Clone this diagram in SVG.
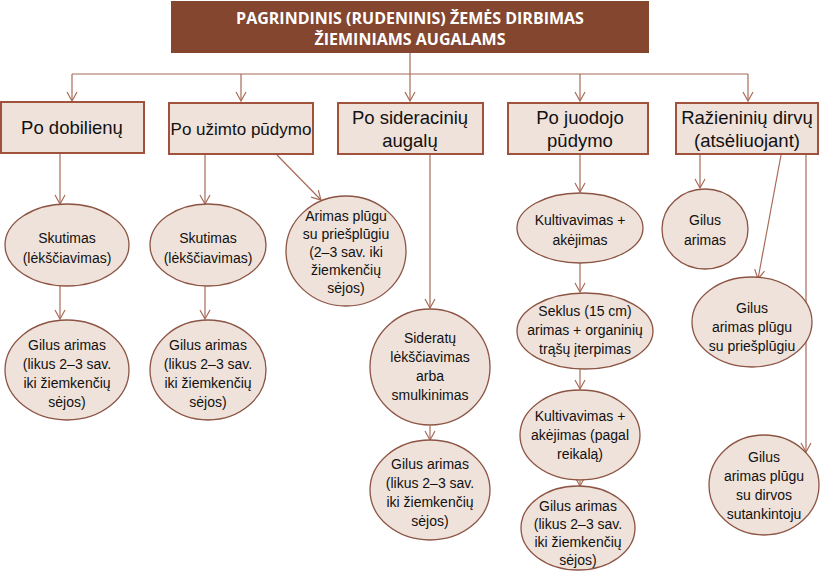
<svg xmlns="http://www.w3.org/2000/svg" width="820" height="582" viewBox="0 0 820 582">
<defs>
<marker id="a" markerWidth="12" markerHeight="12" refX="10" refY="6" orient="auto" markerUnits="userSpaceOnUse" viewBox="0 0 12 12"><path d="M1,1 L10,6 L1,11" fill="none" stroke="#a86a58" stroke-width="1.2"/></marker>
<style>
.b{fill:#efe2da;stroke:#a0523c;stroke-width:2}
.e{fill:#efe2da;stroke:#8c5443;stroke-width:1.3}
.t{font-family:"Liberation Sans",Arial,sans-serif;fill:#111;text-anchor:middle}
.bt{font-size:18.5px}
.et{font-size:14px}
.c{fill:none;stroke:#a86a58;stroke-width:1.2}
</style>
</defs>
<rect width="820" height="582" fill="#fff"/>
<g id="header"><rect x="171" y="1" width="478" height="52" fill="#84462f"/>
<text x="410" y="24" font-family="'Open Sans','Liberation Sans',sans-serif" font-weight="bold" font-size="16" fill="#fff" text-anchor="middle">PAGRINDINIS (RUDENINIS) ŽEMĖS DIRBIMAS</text>
<text x="410" y="45" font-family="'Open Sans','Liberation Sans',sans-serif" font-weight="bold" font-size="16" fill="#fff" text-anchor="middle">ŽIEMINIAMS AUGALAMS</text></g>
<g id="connectors">
<path class="c" d="M410,53 V74 M72,74 H748"/>
<path class="c" marker-end="url(#a)" d="M72,74 V101"/>
<path class="c" marker-end="url(#a)" d="M241,74 V101"/>
<path class="c" marker-end="url(#a)" d="M410,74 V101"/>
<path class="c" marker-end="url(#a)" d="M580,74 V101"/>
<path class="c" marker-end="url(#a)" d="M748,74 V101"/>
<path class="c" marker-end="url(#a)" d="M60,154 V204"/>
<path class="c" marker-end="url(#a)" d="M60,286 V319"/>
<path class="c" marker-end="url(#a)" d="M205,155 V204"/>
<path class="c" marker-end="url(#a)" d="M205,286 V319"/>
<path class="c" marker-end="url(#a)" d="M277,155 L321,200"/>
<path class="c" marker-end="url(#a)" d="M430,155 V308"/>
<path class="c" marker-end="url(#a)" d="M430,426 V440"/>
<path class="c" marker-end="url(#a)" d="M580,155 V192"/>
<path class="c" marker-end="url(#a)" d="M580,263 V292"/>
<path class="c" marker-end="url(#a)" d="M580,369 V389"/>
<path class="c" marker-end="url(#a)" d="M580,481 V486"/>
<path class="c" marker-end="url(#a)" d="M700,155 V188"/>
<path class="c" marker-end="url(#a)" d="M781,155 L758,279"/>
<path class="c" marker-end="url(#a)" d="M806,155 V452"/>
</g>
<g id="n1"><rect class="b" x="1" y="102" width="143" height="51"/><text class="t bt" x="72" y="134">Po dobilienų</text></g>
<g id="n2"><rect class="b" x="169" y="103" width="144" height="51"/><text class="t" font-size="17" x="241" y="135">Po užimto pūdymo</text></g>
<g id="n3"><rect class="b" x="338" y="103" width="145" height="51"/><text class="t bt" x="410" y="124">Po sideracinių</text><text class="t bt" x="410" y="147">augalų</text></g>
<g id="n4"><rect class="b" x="508" y="103" width="140" height="51"/><text class="t bt" x="580" y="124">Po juodojo</text><text class="t bt" x="580" y="147">pūdymo</text></g>
<g id="n5"><rect class="b" x="676" y="103" width="142" height="51"/><text class="t bt" x="747" y="124">Ražieninių dirvų</text><text class="t bt" x="747" y="147">(atsėliuojant)</text></g>
<g id="e1"><ellipse class="e" cx="67" cy="245" rx="62" ry="41"/><text class="t et" x="67" y="243">Skutimas</text><text class="t et" x="67" y="263">(lėkščiavimas)</text></g>
<g id="e2"><ellipse class="e" cx="67" cy="370" rx="62" ry="50"/><text class="t et" x="67" y="350">Gilus arimas</text><text class="t et" x="67" y="369">(likus 2–3 sav.</text><text class="t et" x="67" y="388">iki žiemkenčių</text><text class="t et" x="67" y="407">sėjos)</text></g>
<g id="e3"><ellipse class="e" cx="208" cy="245" rx="58" ry="41"/><text class="t et" x="208" y="243">Skutimas</text><text class="t et" x="208" y="263">(lėkščiavimas)</text></g>
<g id="e4"><ellipse class="e" cx="208" cy="370" rx="58" ry="50"/><text class="t et" x="208" y="350">Gilus arimas</text><text class="t et" x="208" y="369">(likus 2–3 sav.</text><text class="t et" x="208" y="388">iki žiemkenčių</text><text class="t et" x="208" y="407">sėjos)</text></g>
<g id="e5"><ellipse class="e" cx="346" cy="251" rx="60" ry="55"/><text class="t et" x="346" y="221">Arimas plūgu</text><text class="t et" x="346" y="239">su priešplūgiu</text><text class="t et" x="346" y="257">(2–3 sav. iki</text><text class="t et" x="346" y="275">žiemkenčių</text><text class="t et" x="346" y="293">sėjos)</text></g>
<g id="e6"><ellipse class="e" cx="430" cy="367" rx="60" ry="58"/><text class="t et" x="430" y="343">Sideratų</text><text class="t et" x="430" y="362">lėkščiavimas</text><text class="t et" x="430" y="381">arba</text><text class="t et" x="430" y="400">smulkinimas</text></g>
<g id="e7"><ellipse class="e" cx="430" cy="490" rx="60" ry="50"/><text class="t et" x="430" y="469">Gilus arimas</text><text class="t et" x="430" y="488">(likus 2–3 sav.</text><text class="t et" x="430" y="507">iki žiemkenčių</text><text class="t et" x="430" y="526">sėjos)</text></g>
<g id="e8"><ellipse class="e" cx="580" cy="228" rx="63" ry="35"/><text class="t et" x="580" y="225">Kultivavimas +</text><text class="t et" x="580" y="245">akėjimas</text></g>
<g id="e9"><ellipse class="e" cx="585" cy="331" rx="68" ry="38"/><text class="t et" x="585" y="316">Seklus (15 cm)</text><text class="t et" x="585" y="335">arimas + organinių</text><text class="t et" x="585" y="354">trąšų įterpimas</text></g>
<g id="e10"><ellipse class="e" cx="580" cy="435" rx="60" ry="45"/><text class="t et" x="580" y="421">Kultivavimas +</text><text class="t et" x="580" y="440">akėjimas (pagal</text><text class="t et" x="580" y="459">reikalą)</text></g>
<g id="e11"><ellipse class="e" cx="578" cy="528" rx="57" ry="42"/><text class="t et" x="578" y="511">Gilus arimas</text><text class="t et" x="578" y="529">(likus 2–3 sav.</text><text class="t et" x="578" y="547">iki žiemkenčių</text><text class="t et" x="578" y="565">sėjos)</text></g>
<g id="e12"><ellipse class="e" cx="705" cy="229" rx="43" ry="40"/><text class="t et" x="705" y="225">Gilus</text><text class="t et" x="705" y="245">arimas</text></g>
<g id="e13"><ellipse class="e" cx="752" cy="322" rx="60" ry="45"/><text class="t et" x="752" y="313">Gilus</text><text class="t et" x="752" y="332">arimas plūgu</text><text class="t et" x="752" y="351">su priešplūgiu</text></g>
<g id="e14"><ellipse class="e" cx="764" cy="485" rx="55" ry="50"/><text class="t et" x="764" y="462">Gilus</text><text class="t et" x="764" y="481">arimas plūgu</text><text class="t et" x="764" y="500">su dirvos</text><text class="t et" x="764" y="519">sutankintoju</text></g>
</svg>
